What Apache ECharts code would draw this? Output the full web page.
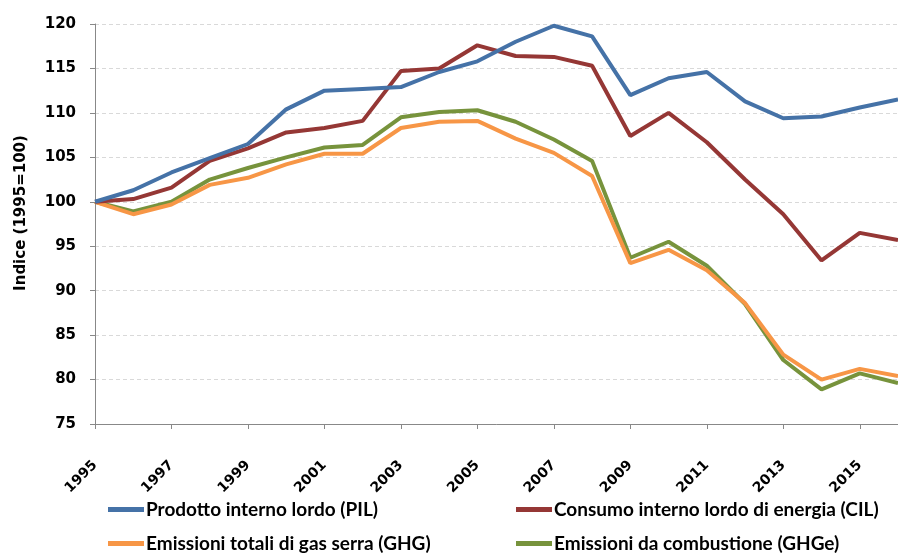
<!DOCTYPE html>
<html>
<head>
<meta charset="utf-8">
<script src="https://cdn.jsdelivr.net/npm/echarts@6/dist/echarts.min.js"></script>
<style>
  html, body { margin: 0; padding: 0; background: #fff; }
  #main { width: 898px; height: 555px; }
</style>
</head>
<body>
<div id="main"></div>
<script>
var anni = ['1995', '1996', '1997', '1998', '1999', '2000', '2001', '2002', '2003', '2004', '2005',
  '2006', '2007', '2008', '2009', '2010', '2011', '2012', '2013', '2014', '2015', '2016']

var pil = [100, 101.3, 103.3, 104.9, 106.5, 110.4, 112.5, 112.7, 112.9, 114.6, 115.8,
  118.0, 119.8, 118.6, 112.0, 113.9, 114.6, 111.3, 109.4, 109.6, 110.6, 111.5]
var cil = [100, 100.3, 101.6, 104.6, 106.0, 107.8, 108.3, 109.1, 114.7, 115.0, 117.6,
  116.4, 116.3, 115.3, 107.4, 110.0, 106.7, 102.5, 98.6, 93.4, 96.5, 95.7]
var ghg = [100, 98.6, 99.7, 101.9, 102.7, 104.2, 105.4, 105.4, 108.3, 109.0, 109.1,
  107.1, 105.5, 102.9, 93.1, 94.6, 92.3, 88.6, 82.8, 80.0, 81.2, 80.4]
var ghge = [100, 98.9, 100.0, 102.5, 103.8, 105.0, 106.1, 106.4, 109.5, 110.1, 110.3,
  109.0, 107.0, 104.6, 93.7, 95.5, 92.8, 88.5, 82.2, 78.9, 80.7, 79.6]

var nomi = ['Prodotto interno lordo (PIL)', 'Consumo interno lordo di energia (CIL)',
  'Emissioni totali di gas serra (GHG)', 'Emissioni da combustione (GHGe)']
var colori = ['#4572A7', '#953735', '#F79646', '#77933C']

var myChart = echarts.init(document.getElementById('main'))

function serie(i, dati) {
  return {
    name: nomi[i],
    type: 'line',
    data: dati,
    showSymbol: false,
    symbol: 'none',
    lineStyle: { width: 4, color: colori[i] },
    itemStyle: { color: colori[i] },
    z: 10 - i
  }
}

// legenda su due colonne, come nell'originale
function legenda(voci, x) {
  return {
    data: voci,
    orient: 'vertical',
    left: x,
    top: 500,
    height: 60,
    padding: 0,
    itemWidth: 36,
    itemHeight: 5,
    itemGap: 15,
    icon: 'rect',
    textStyle: {
      fontFamily: 'Lato',
      fontWeight: 'bold',
      fontSize: 19,
      color: '#000',
      padding: [0, 0, 0, -3]
    }
  }
}

var option = {
  animation: false,
  grid: {
    top: 24,
    bottom: 131,
    left: 95,
    right: 0
  },
  legend: [legenda([nomi[0], nomi[2]], 108), legenda([nomi[1], nomi[3]], 516)],
  xAxis: {
    type: 'category',
    data: anni,
    boundaryGap: false,
    axisLine: { lineStyle: { color: '#888', width: 1 } },
    axisTick: { show: true, interval: 1, length: 5, lineStyle: { color: '#888' } },
    axisLabel: {
      interval: 1,
      rotate: 45,
      margin: 39,
      fontFamily: 'DejaVu Sans',
      fontWeight: 'bold',
      fontSize: 14,
      color: '#000'
    },
    splitLine: { show: false }
  },
  yAxis: {
    type: 'value',
    min: 75,
    max: 120,
    interval: 5,
    name: 'Indice (1995=100)',
    nameLocation: 'middle',
    nameGap: 66,
    nameRotate: 90,
    nameTextStyle: {
      fontFamily: 'DejaVu Sans',
      fontWeight: 'bold',
      fontSize: 15,
      color: '#000',
      padding: [0, 0, 0, 22]
    },
    axisLine: { show: true, lineStyle: { color: '#888', width: 1 } },
    axisTick: { show: true, length: 5, lineStyle: { color: '#888' } },
    axisLabel: {
      margin: 19,
      fontFamily: 'DejaVu Sans',
      fontWeight: 'bold',
      fontSize: 15,
      color: '#000'
    },
    splitLine: { lineStyle: { color: '#d9d9d9', type: [4, 3] } }
  },
  series: [
    serie(0, pil),
    serie(1, cil),
    serie(2, ghg),
    serie(3, ghge)
  ]
}

myChart.setOption(option)
</script>
</body>
</html>
